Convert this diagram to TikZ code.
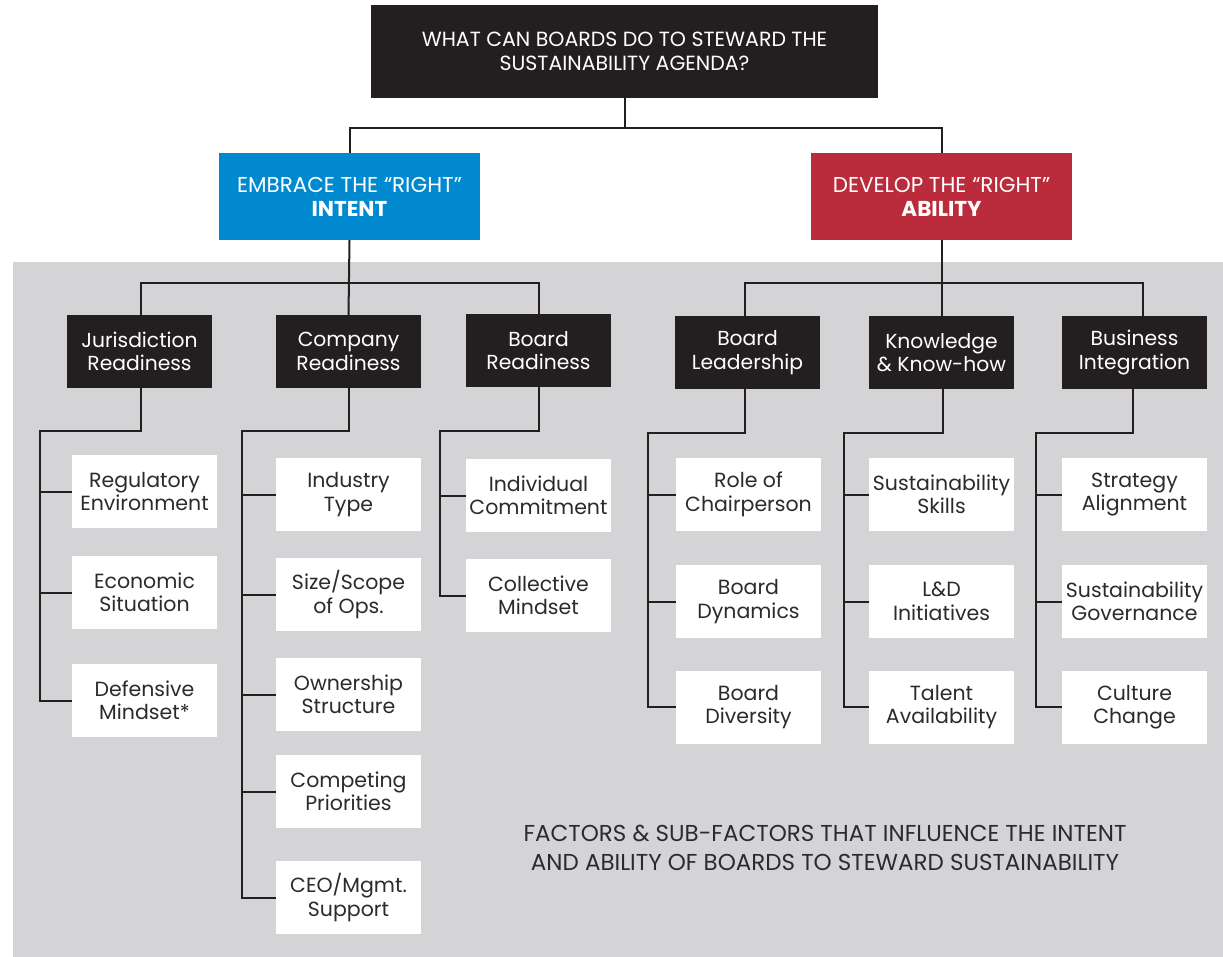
\documentclass[tikz,border=0pt]{standalone}
\usepackage{fontspec}
\setmainfont{Poppins}
\definecolor{boxblack}{HTML}{231F20}
\definecolor{bggray}{HTML}{D4D4D6}
\definecolor{cblue}{HTML}{0089CF}
\definecolor{cred}{HTML}{BA2B3B}
\definecolor{txtgray}{HTML}{2B2A2C}
\tikzset{
  conn/.style={draw=boxblack, line width=2pt},
  headbox/.style={fill=boxblack, text=white, minimum width=507pt, minimum height=93pt, inner sep=0pt, align=center, font=\fontsize{20.5}{24}\selectfont},
  pillarbox/.style={text=white, minimum width=261pt, minimum height=87pt, inner sep=0pt, align=center, font=\fontsize{21.5}{24}\selectfont},
  factorbox/.style={fill=boxblack, text=white, minimum width=145pt, minimum height=73pt, inner sep=0pt, align=center, font=\fontsize{20.3}{23.5}\selectfont},
  subbox/.style={fill=white, text=txtgray, minimum width=145pt, minimum height=73pt, inner sep=0pt, align=center, font=\fontsize{20.5}{23.5}\selectfont},
  caption/.style={text=txtgray, align=center, inner sep=0pt, font=\fontsize{23}{29}\selectfont}
}
\begin{document}
\begin{tikzpicture}[x=1pt,y=-1pt]
\useasboundingbox (0,0) rectangle (1223,957);
\fill[white] (0,0) rectangle (1223,957);
\fill[bggray] (13,262) rectangle (1223,957);

% head
\node[headbox] (top) at (624.5,51.5) {WHAT CAN BOARDS DO TO STEWARD THE\\SUSTAINABILITY AGENDA?};
\node[pillarbox, fill=cblue] (intent) at (349.5,196.5) {EMBRACE THE “RIGHT”\\\textbf{INTENT}};
\node[pillarbox, fill=cred] (ability) at (941.5,196.5) {DEVELOP THE “RIGHT”\\\textbf{ABILITY}};

% factors
\node[factorbox] (jur) at (139.5,351.5) {Jurisdiction\\Readiness};
\node[factorbox] (comp) at (348.5,351.5) {Company\\Readiness};
\node[factorbox] (brd) at (538.5,350.5) {Board\\Readiness};
\node[factorbox] (lead) at (747.5,352.5) {Board\\Leadership};
\node[factorbox] (know) at (941.5,352.5) {Knowledge\\\& Know-how};
\node[factorbox] (biz) at (1134.5,352.5) {Business\\Integration};

% sub-factors
\node[subbox] (reg) at (144.5,491.5) {Regulatory\\Environment};
\node[subbox] (eco) at (144.5,592.5) {Economic\\Situation};
\node[subbox] (def) at (144.5,700.5) {Defensive\\Mindset*};

\node[subbox] (ind) at (348.5,494.5) {Industry\\Type};
\node[subbox] (size) at (348.5,594.5) {Size/Scope\\of Ops.};
\node[subbox] (own) at (348.5,694.5) {Ownership\\Structure};
\node[subbox] (cmp) at (348.5,791.5) {Competing\\Priorities};
\node[subbox] (ceo) at (348.5,897.5) {CEO/Mgmt.\\Support};

\node[subbox] (indiv) at (538.5,495.5) {Individual\\Commitment};
\node[subbox] (coll) at (538.5,595.5) {Collective\\Mindset};

\node[subbox] (role) at (748.5,494.5) {Role of\\Chairperson};
\node[subbox] (dyn) at (748.5,601.5) {Board\\Dynamics};
\node[subbox] (div) at (748.5,707) {Board\\Diversity};

\node[subbox] (skill) at (941.5,494.5) {Sustainability\\Skills};
\node[subbox] (ld) at (941.5,601.5) {L\&D\\Initiatives};
\node[subbox] (tal) at (941.5,707) {Talent\\Availability};

\node[subbox] (strat) at (1134.5,494.5) {Strategy\\Alignment};
\node[subbox] (gov) at (1134.5,601.5) {Sustainability\\Governance};
\node[subbox] (cult) at (1134.5,707) {Culture\\Change};

\node[caption] (cap) at (825,848) {FACTORS \& SUB-FACTORS THAT INFLUENCE THE INTENT\\AND ABILITY OF BOARDS TO STEWARD SUSTAINABILITY};

% coordinates for buses
\coordinate (busT) at (624.5,128);
\coordinate (busL) at (349.5,283);
\coordinate (busR) at (941.5,283);
\coordinate (jL) at (40,431);
\coordinate (cL) at (242,431);
\coordinate (bL) at (440,431);
\coordinate (lL) at (648,433);
\coordinate (kL) at (844,433);
\coordinate (zL) at (1036,433);

% top level
\draw[conn] (top.south) -- (busT);
\draw[conn] (intent.north) |- (busT) -| (ability.north);
% second level
\draw[conn] (intent.south) -- (comp.north);
\draw[conn] ([xshift=1pt]jur.north) |- (busL) -| (brd.north);
\draw[conn] (ability.south) -- (know.north);
\draw[conn] ([xshift=-3pt]lead.north) |- (busR) -| ([xshift=8.5pt]biz.north);

% sub-trees
\draw[conn] ([xshift=1pt]jur.south) |- (jL) |- (def.west);
\draw[conn] (reg.west -| jL) -- (reg.west);
\draw[conn] (eco.west -| jL) -- (eco.west);

\draw[conn] (comp.south) |- (cL) |- (ceo.west);
\draw[conn] (ind.west -| cL) -- (ind.west);
\draw[conn] (size.west -| cL) -- (size.west);
\draw[conn] (own.west -| cL) -- (own.west);
\draw[conn] (cmp.west -| cL) -- (cmp.west);

\draw[conn] (brd.south) |- (bL) |- (coll.west);
\draw[conn] (indiv.west -| bL) -- (indiv.west);

\draw[conn] ([xshift=-2.5pt]lead.south) |- (lL) |- (div.west);
\draw[conn] (role.west -| lL) -- (role.west);
\draw[conn] (dyn.west -| lL) -- (dyn.west);

\draw[conn] ([xshift=1.5pt]know.south) |- (kL) |- (tal.west);
\draw[conn] (skill.west -| kL) -- (skill.west);
\draw[conn] (ld.west -| kL) -- (ld.west);

\draw[conn] ([xshift=-1.5pt]biz.south) |- (zL) |- (cult.west);
\draw[conn] (strat.west -| zL) -- (strat.west);
\draw[conn] (gov.west -| zL) -- (gov.west);
\end{tikzpicture}
\end{document}
